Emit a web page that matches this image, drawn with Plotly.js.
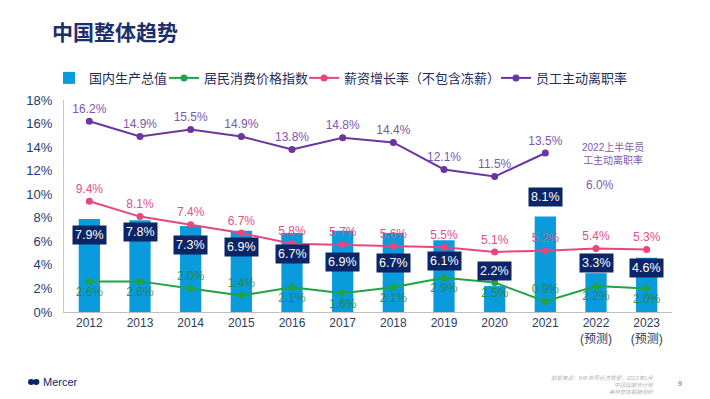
<!DOCTYPE html>
<html>
<head>
<meta charset="utf-8">
<script src="https://cdn.plot.ly/plotly-3.0.1.min.js"></script>
<style>html,body{margin:0;padding:0;background:#fff;}#chart{width:710px;height:399px;}</style>
</head>
<body>
<div id="chart"></div>
<script>
// ---- data ----
const years = ['2012','2013','2014','2015','2016','2017','2018','2019','2020','2021','2022','2023'];
const yearLabels = ['2012','2013','2014','2015','2016','2017','2018','2019','2020','2021','2022<br>(预测)','2023<br>(预测)'];
const gdp = [7.9, 7.8, 7.3, 6.9, 6.7, 6.9, 6.7, 6.1, 2.2, 8.1, 3.3, 4.6];
const cpi = [2.6, 2.6, 2.0, 1.4, 2.1, 1.6, 2.1, 2.9, 2.5, 0.9, 2.2, 2.0];
const wage = [9.4, 8.1, 7.4, 6.7, 5.8, 5.7, 5.6, 5.5, 5.1, 5.2, 5.4, 5.3];
const turnover = [16.2, 14.9, 15.5, 14.9, 13.8, 14.8, 14.4, 12.1, 11.5, 13.5, null, null];
const turnoverH1_2022 = 6.0;

const seriesNames = ['国内生产总值', '居民消费价格指数', '薪资增长率（不包含冻薪）', '员工主动离职率'];

// ---- layout helpers (label placement only) ----
const gdpLabelY = [6.55, 6.8, 5.7, 5.5, 4.9, 4.25, 4.2, 4.35, 3.5, 9.8, 4.2, 3.75];
const cpiTextPos = ['bottom center','bottom center','top center','top center','bottom center','bottom center',
                    'bottom center','bottom center','bottom center','top center','bottom center','bottom center'];
const legendX = [-0.0247, 0.1645, 0.3948, 0.7105];

const FONT = 'Liberation Sans, Arial, Noto Sans CJK SC, sans-serif';
const CJK = 'Noto Sans CJK SC, sans-serif';
const NAVY = '#0b2566';

const pct = v => v.toFixed(1) + '%';

const traces = [
  {
    type: 'bar', name: seriesNames[0], x: years, y: gdp, legend: 'legend',
    marker: {color: '#0a9bdc'}, hoverinfo: 'y'
  },
  {
    type: 'scatter', mode: 'lines+markers+text', name: seriesNames[1], x: years, y: cpi, legend: 'legend2',
    line: {color: '#1ea446', width: 2}, marker: {color: '#1ea446', size: 7},
    text: cpi.map(pct), textposition: cpiTextPos,
    textfont: {color: 'rgba(38,128,52,0.85)', size: 12, family: FONT}
  },
  {
    type: 'scatter', mode: 'lines+markers+text', name: seriesNames[2], x: years, y: wage, legend: 'legend3',
    line: {color: '#e8467f', width: 2}, marker: {color: '#e8467f', size: 7},
    text: wage.map(pct), textposition: 'top center',
    textfont: {color: '#e0508a', size: 12, family: FONT}
  },
  {
    type: 'scatter', mode: 'lines+markers+text', name: seriesNames[3], x: years, y: turnover, legend: 'legend4',
    line: {color: '#6a35a0', width: 2}, marker: {color: '#6a35a0', size: 7},
    text: turnover.map(v => v == null ? '' : pct(v)), textposition: 'top center',
    textfont: {color: '#7b58ad', size: 12, family: FONT},
    connectgaps: false
  }
];

const annotations = gdp.map((v, i) => ({
  x: i, y: gdpLabelY[i], xref: 'x', yref: 'y',
  text: pct(v), showarrow: false,
  bgcolor: NAVY, borderpad: 2,
  font: {color: '#ffffff', size: 12.5, family: FONT}
}));

annotations.push(
  {xref: 'paper', yref: 'paper', x: 0.903, y: 0.748, xanchor: 'center', yanchor: 'middle',
   text: '2022上半年员<br>工主动离职率',
   showarrow: false, font: {size: 10, color: '#7d5bb0', family: FONT}},
  {xref: 'paper', yref: 'paper', x: 0.882, y: 0.599, xanchor: 'center', yanchor: 'middle',
   text: pct(turnoverH1_2022),
   showarrow: false, font: {size: 12, color: '#7d5bb0', family: FONT}},
  {xref: 'paper', yref: 'paper', x: -0.0378, y: -0.330, xanchor: 'left', yanchor: 'middle', text: 'Mercer',
   showarrow: false, font: {size: 11, color: NAVY, family: FONT}},
  {xref: 'paper', yref: 'paper', x: 0.974, y: -0.344, xanchor: 'right', yanchor: 'middle', align: 'right',
   text: '<i>数据来源：IMF世界经济展望，2022年1月</i><br><i>中国国家统计局</i><br><i>美世整体薪酬调研</i>',
   showarrow: false, font: {size: 5.5, color: '#b5b5b5', family: FONT}},
  {xref: 'paper', yref: 'paper', x: 1.0132, y: -0.335, xanchor: 'center', yanchor: 'middle', text: '9',
   showarrow: false, font: {size: 7, color: '#666666', family: FONT}}
);

const shapes = [
  {type: 'circle', xref: 'paper', yref: 'paper', x0: -0.0592, x1: -0.0490, y0: -0.344, y1: -0.316,
   fillcolor: NAVY, line: {width: 0}},
  {type: 'circle', xref: 'paper', yref: 'paper', x0: -0.0510, x1: -0.0405, y0: -0.344, y1: -0.316,
   fillcolor: NAVY, line: {width: 0}}
];

function legendAt(x) {
  return {
    orientation: 'h', x: x, xanchor: 'left', y: 1.104, yanchor: 'middle',
    font: {size: 13, color: '#1f2d5a', family: CJK},
    itemwidth: 30, bgcolor: 'rgba(0,0,0,0)'
  };
}

const layout = {
  width: 710, height: 399,
  margin: {l: 64, r: 38, t: 100, b: 87},
  paper_bgcolor: '#ffffff', plot_bgcolor: '#ffffff',
  font: {family: FONT},
  title: {
    text: '<b>中国整体趋势</b>', x: 52/710, xanchor: 'left', xref: 'container',
    y: 1 - 33/399, yanchor: 'middle', yref: 'container',
    font: {size: 21, color: '#1c2f6b', family: CJK}
  },
  showlegend: true,
  legend: legendAt(legendX[0]),
  legend2: legendAt(legendX[1]),
  legend3: legendAt(legendX[2]),
  legend4: legendAt(legendX[3]),
  bargap: 0.58,
  xaxis: {
    type: 'category', range: [-0.5, 11.5], tickvals: years, ticktext: yearLabels,
    showline: true, linecolor: '#bfbfbf', linewidth: 1,
    showgrid: false, zeroline: false, ticks: '',
    tickfont: {size: 12, color: '#2f3b5c', family: FONT}, fixedrange: true
  },
  yaxis: {
    range: [0, 18], dtick: 2, ticksuffix: '%',
    showline: true, linecolor: '#c8c8c8', linewidth: 1,
    showgrid: false, zeroline: false, ticks: '', ticklabelstandoff: 8,
    tickfont: {size: 13, color: '#1f3a6e', family: FONT}, fixedrange: true
  },
  annotations: annotations,
  shapes: shapes
};

Plotly.newPlot('chart', traces, layout, {displayModeBar: false, staticPlot: true});
</script>
</body>
</html>
